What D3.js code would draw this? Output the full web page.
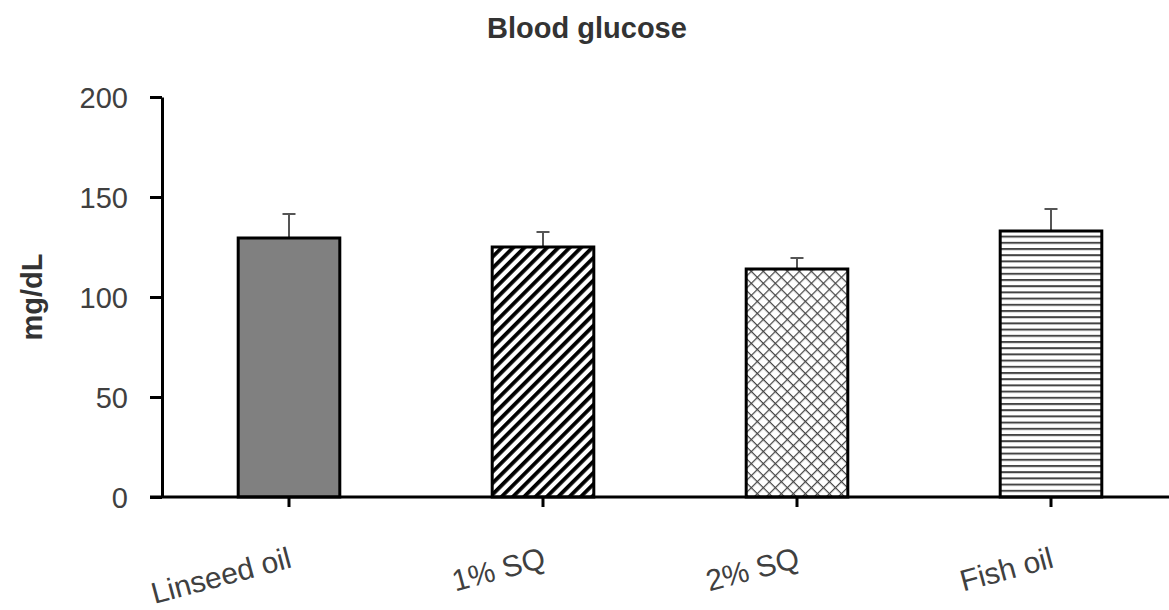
<!DOCTYPE html>
<html>
<head>
<meta charset="utf-8">
<script src="https://cdn.jsdelivr.net/npm/d3@7"></script>
<style>
  body { margin: 0; background: #fff; }
  text { font-family: Arial, "Liberation Sans", sans-serif; }
</style>
</head>
<body>
<div id="chart"></div>
<script>
// Data
const categories = ["Linseed oil", "1% SQ", "2% SQ", "Fish oil"];
const means = [129.5, 125, 114, 133];
const errors = [12, 7.5, 5.5, 11];
const yTicks = [0, 50, 100, 150, 200];

const W = 1169, H = 610;
const x0 = 162, y0 = 497, yTop = 97;

const svg = d3.select('#chart')
    .append('svg')
    .attr('width', W)
    .attr('height', H);

// patterns
const defs = svg.append('defs');

const diag = defs.append('pattern')
    .attr('id', 'diag')
    .attr('patternUnits', 'userSpaceOnUse')
    .attr('width', 8)
    .attr('height', 8)
    .attr('patternTransform', 'rotate(45)');
diag.append('rect').attr('width', 8).attr('height', 8).attr('fill', '#fff');
diag.append('rect').attr('x', 0).attr('width', 3.8).attr('height', 8).attr('fill', '#000');

const cross = defs.append('pattern')
    .attr('id', 'cross')
    .attr('patternUnits', 'userSpaceOnUse')
    .attr('width', 8.5)
    .attr('height', 8.5)
    .attr('patternTransform', 'rotate(45)');
cross.append('rect').attr('width', 8.5).attr('height', 8.5).attr('fill', '#fff');
cross.append('line').attr('x1', 0).attr('x2', 8.5).attr('y1', 0.6).attr('y2', 0.6)
    .attr('stroke', '#444').attr('stroke-width', 1.2);
cross.append('line').attr('x1', 0.6).attr('x2', 0.6).attr('y1', 0).attr('y2', 8.5)
    .attr('stroke', '#444').attr('stroke-width', 1.2);

const horiz = defs.append('pattern')
    .attr('id', 'horiz')
    .attr('patternUnits', 'userSpaceOnUse')
    .attr('width', 10)
    .attr('height', 6.2);
horiz.append('rect').attr('width', 10).attr('height', 6.2).attr('fill', '#fff');
horiz.append('rect').attr('y', 0).attr('width', 10).attr('height', 2).attr('fill', '#444');

const fills = ['#808080', 'url(#diag)', 'url(#cross)', 'url(#horiz)'];

// scales
const x = d3.scaleBand()
    .domain(categories)
    .range([x0, 1178])
    .paddingInner(0.6)
    .paddingOuter(0.3);

const y = d3.scaleLinear()
    .domain([0, 200])
    .range([y0, yTop]);

const data = categories.map((c, i) => ({ name: c, mean: means[i], err: errors[i], fill: fills[i] }));

// error bars (drawn first, bar covers the bottom)
const err = svg.selectAll('.err')
    .data(data)
    .join('g')
    .attr('class', 'err');

err.append('line')
    .attr('x1', d => x(d.name) + x.bandwidth() / 2)
    .attr('x2', d => x(d.name) + x.bandwidth() / 2)
    .attr('y1', d => y(d.mean))
    .attr('y2', d => y(d.mean + d.err))
    .attr('stroke', '#555')
    .attr('stroke-width', 2);

err.append('line')
    .attr('x1', d => x(d.name) + x.bandwidth() / 2 - 6.5)
    .attr('x2', d => x(d.name) + x.bandwidth() / 2 + 6.5)
    .attr('y1', d => y(d.mean + d.err))
    .attr('y2', d => y(d.mean + d.err))
    .attr('stroke', '#555')
    .attr('stroke-width', 2);

// bars
svg.selectAll('.bar')
    .data(data)
    .join('rect')
    .attr('class', 'bar')
    .attr('x', d => x(d.name))
    .attr('y', d => y(d.mean))
    .attr('width', x.bandwidth())
    .attr('height', d => y0 - y(d.mean))
    .attr('fill', d => d.fill)
    .attr('stroke', '#000')
    .attr('stroke-width', 3);

// y axis
const yAxis = svg.append('g')
    .attr('transform', `translate(${x0},0)`)
    .call(d3.axisLeft(y).tickValues(yTicks).tickSize(12).tickPadding(22).tickSizeOuter(0));
yAxis.select('.domain').attr('stroke', '#000').attr('stroke-width', 3);
yAxis.selectAll('.tick line').attr('stroke', '#000').attr('stroke-width', 3);
yAxis.selectAll('.tick text')
    .attr('fill', '#404040')
    .style('font-size', '29px')
    .attr('dy', '0.35em');

// x axis
const xAxis = svg.append('g')
    .attr('transform', `translate(0,${y0})`)
    .call(d3.axisBottom(x).tickSize(10).tickSizeOuter(0));
xAxis.select('.domain').attr('d', `M${x0 - 12},0H${W}`).attr('stroke', '#000').attr('stroke-width', 3);
xAxis.selectAll('.tick line').attr('stroke', '#000').attr('stroke-width', 3);
xAxis.selectAll('.tick text')
    .attr('fill', '#404040')
    .style('font-size', '30px')
    .attr('text-anchor', 'end')
    .attr('y', 0)
    .attr('dy', 0)
    .attr('transform', 'translate(4,70) rotate(-15)');

// title
svg.append('text')
    .attr('x', 587)
    .attr('y', 38)
    .attr('text-anchor', 'middle')
    .attr('fill', '#333')
    .style('font-size', '29px')
    .style('font-weight', 'bold')
    .text('Blood glucose');

// y label
svg.append('text')
    .attr('transform', `translate(42,${(y0 + yTop) / 2}) rotate(-90)`)
    .attr('text-anchor', 'middle')
    .attr('fill', '#333')
    .style('font-size', '29px')
    .style('font-weight', 'bold')
    .text('mg/dL');
</script>
</body>
</html>
